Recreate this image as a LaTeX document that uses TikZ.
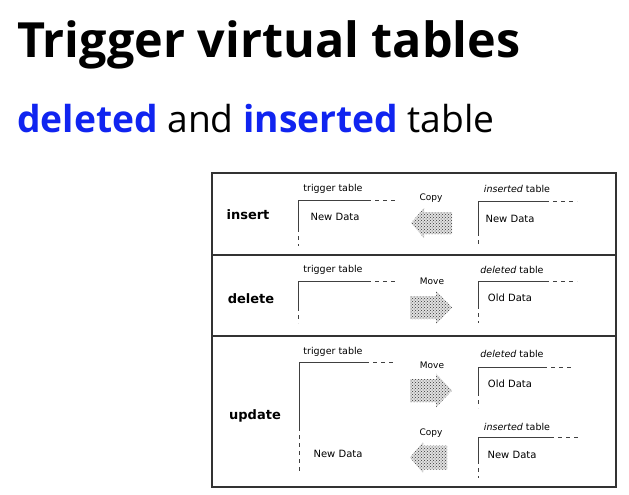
\documentclass[tikz,border=0pt]{standalone}
\usepackage{fontspec}
\setmainfont{DejaVu Sans}
\newfontfamily\titlefont{Open Sans}
\usetikzlibrary{patterns}

\definecolor{keyblue}{RGB}{16,36,240}

\begin{document}
\begin{tikzpicture}[%
		x=1pt,
		y=-1pt,
		rowname/.style={%
			font=\bfseries\fontsize{13}{15}\selectfont
		},
		tabname/.style={%
			font=\fontsize{9.5}{11}\selectfont,
			inner sep=0pt
		},
		datatext/.style={%
			font=\fontsize{10}{12}\selectfont,
			inner sep=0pt
		},
		verb/.style={%
			font=\fontsize{9}{10}\selectfont,
			inner sep=0pt
		},
		frame/.style={%
			draw=black!80,
			line width=1.2pt
		},
		edgeline/.style={%
			draw=black!75,
			line width=1pt
		},
		openend/.style={%
			edgeline,
			dash pattern=on 4pt off 4pt
		},
		stipple/.style={%
			preaction={fill=black!12},
			pattern=crosshatch dots,
			pattern color=black!80
		}
		]
		\useasboundingbox (0,0) rectangle (629,495);
		
		% title
		\node[anchor=base west, inner sep=0pt, font=\titlefont\bfseries\fontsize{48.5}{54}\selectfont] (title) at (17,58) {Trigger virtual tables};
		\node[anchor=base west, inner sep=0pt, font=\titlefont\fontsize{37.2}{42}\selectfont] (subtitle) at (17,132) {\textcolor{keyblue}{\bfseries deleted} and \textcolor{keyblue}{\bfseries inserted} table};
		
		% frame and rows
		\draw[frame] (212,173) rectangle (616,487);
		\draw[frame] (212,255) -- (616,255);
		\draw[frame] (212,336) -- (616,336);
		
		\node[rowname] (insert) at (248,215) {insert};
		\node[rowname] (delete) at (251,299) {delete};
		\node[rowname] (update) at (255,416) {update};
		
		% insert row
		\draw[edgeline] (298,228) -- (298,200) -- (367,200);
		\draw[openend] (367,200) -- (397,200);
		\draw[openend] (298,228) -- (298,246);
		\node[tabname] (trig1) at (333,189) {trigger table};
		\node[datatext] (new1) at (335,217) {New Data};
		
		\fill[stipple, shift={(431,223)}] (-20,0) -- (-7,-15) -- (-7,-11) -- (21,-11) -- (21,11) -- (-7,11) -- (-7,15) -- cycle;
		\node[verb] (copy1) at (431,198) {Copy};
		
		\draw[edgeline] (478,232) -- (478,201) -- (545,201);
		\draw[openend] (545,201) -- (577,201);
		\draw[openend] (478,232) -- (478,244);
		\node[tabname] (ins1) at (517,189) {\textit{inserted} table};
		\node[datatext] (new2) at (510,219) {New Data};
		
		% delete row
		\draw[edgeline] (298,307) -- (298,281) -- (367,281);
		\draw[openend] (367,281) -- (397,281);
		\draw[openend] (298,307) -- (298,323);
		\node[tabname] (trig2) at (333,270) {trigger table};
		
		\fill[stipple, shift={(431,307.5)}] (21,0) -- (5,-16.5) -- (5,-11.5) -- (-21,-11.5) -- (-21,11.5) -- (5,11.5) -- (5,16.5) -- cycle;
		\node[verb] (move1) at (432,281) {Move};
		
		\draw[edgeline] (478,305) -- (478,281) -- (545,281);
		\draw[openend] (545,281) -- (577,281);
		\draw[openend] (478,305) -- (478,323);
		\node[tabname] (del1) at (512,270) {\textit{deleted} table};
		\node[datatext] (old1) at (510,298) {Old Data};
		
		% update row
		\draw[edgeline] (299,427) -- (299,362) -- (365,362);
		\draw[openend] (365,362) -- (393,362);
		\draw[openend] (299,427) -- (299,471);
		\node[tabname] (trig3) at (333,352) {trigger table};
		\node[datatext] (new3) at (338,454) {New Data};
		
		\fill[stipple, shift={(431,390.5)}] (21,0) -- (5,-17) -- (5,-11.5) -- (-21,-11.5) -- (-21,11.5) -- (5,11.5) -- (5,17) -- cycle;
		\node[verb] (move2) at (432,365) {Move};
		
		\fill[stipple, shift={(430,457.5)}] (-20,0) -- (-7,-15.5) -- (-7,-12) -- (17,-12) -- (17,12) -- (-7,12) -- (-7,15.5) -- cycle;
		\node[verb] (copy2) at (431,433) {Copy};
		
		\draw[edgeline] (478,392) -- (478,367) -- (543,367);
		\draw[openend] (543,367) -- (573,367);
		\draw[openend] (478,392) -- (478,408);
		\node[tabname] (del2) at (512,354) {\textit{deleted} table};
		\node[datatext] (old2) at (510,384) {Old Data};
		
		\draw[edgeline] (478,460) -- (478,437) -- (550,437);
		\draw[openend] (550,437) -- (578,437);
		\draw[openend] (478,460) -- (478,478);
		\node[tabname] (ins2) at (517,427) {\textit{inserted} table};
		\node[datatext] (new4) at (512,455) {New Data};
\end{tikzpicture}
\end{document}
